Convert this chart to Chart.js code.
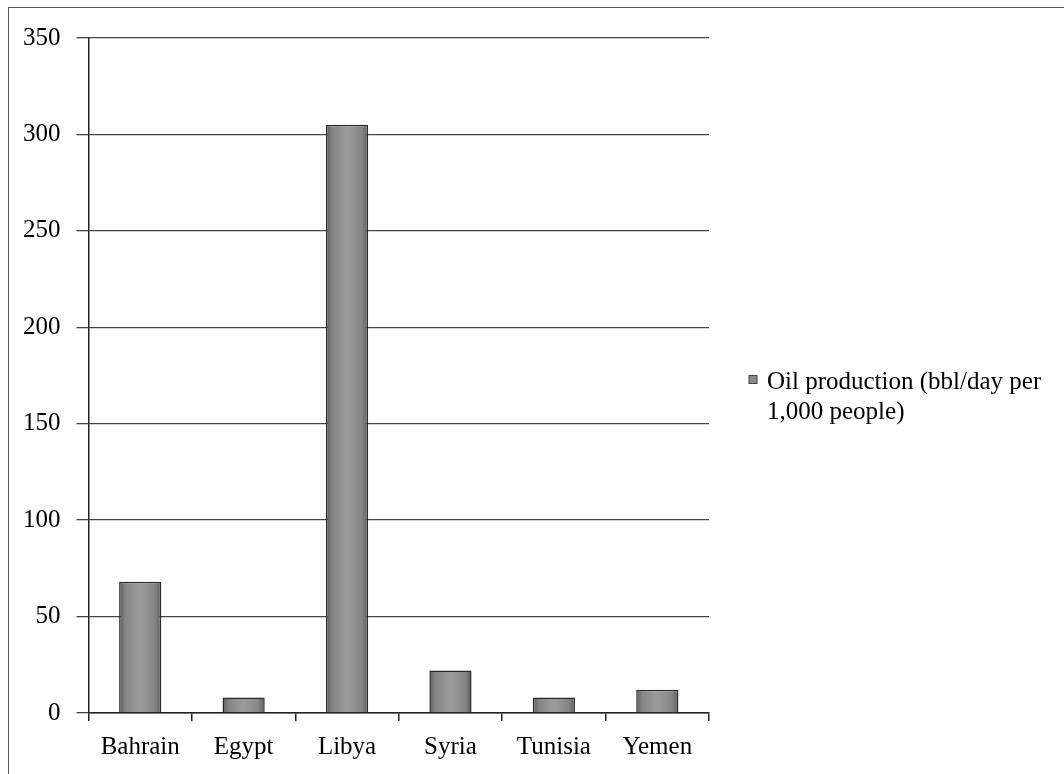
<!DOCTYPE html>
<html>
<head>
<meta charset="utf-8">
<script src="https://cdn.jsdelivr.net/npm/chart.js@4.4.1/dist/chart.umd.min.js"></script>
<style>
  html, body { margin: 0; padding: 0; background: #fff; overflow: hidden; }
  #frame { position: absolute; left: 8px; top: 7px; width: 1100px; height: 800px; border: 1.5px solid #555; }
  #wrap { position: absolute; left: 0; top: 0; width: 1064px; height: 774px; }
</style>
</head>
<body>
<div id="frame"></div>
<div id="wrap"><canvas id="oilChart"></canvas></div>
<script>
// values
const countries = ['Bahrain', 'Egypt', 'Libya', 'Syria', 'Tunisia', 'Yemen'];
const oilPerThousand = [68, 8, 305, 22, 8, 12];
const seriesLabel = ['Oil production (bbl/day per', '1,000 people)'];
const yMin = 0, yMax = 350, yStep = 50;

const serif = '"Liberation Serif", "Times New Roman", serif';

function barFill(context) {
    const chart = context.chart;
    const xs = chart.scales && chart.scales.x;
    if (!xs || context.dataIndex === undefined) return '#888';
    const cx = xs.getPixelForValue(context.dataIndex);
    if (!isFinite(cx)) return '#888';
    const half = 21;
    const g = chart.ctx.createLinearGradient(cx - half, 0, cx + half, 0);
    g.addColorStop(0, '#5e5e5e');
    g.addColorStop(0.15, '#858585');
    g.addColorStop(0.5, '#9c9c9c');
    g.addColorStop(0.85, '#858585');
    g.addColorStop(1, '#5e5e5e');
    return g;
}

// legend drawn by hand so the label can wrap onto two lines
const sideLegend = {
    id: 'sideLegend',
    afterDraw(chart) {
        const c = chart.ctx, a = chart.chartArea;
        const boxX = a.right + 40;
        const textX = a.right + 58;
        const base1 = (a.top + a.bottom) / 2 + 13;
        c.save();
        c.fillStyle = '#8a8a8a';
        c.strokeStyle = '#444';
        c.lineWidth = 1;
        c.fillRect(boxX, base1 - 13, 8, 8);
        c.strokeRect(boxX, base1 - 13, 8, 8);
        c.fillStyle = '#000';
        c.font = '25px ' + serif;
        c.textBaseline = 'alphabetic';
        seriesLabel.forEach((line, i) => c.fillText(line, textX, base1 + i * 30));
        c.restore();
    }
};

const ctx = document.getElementById('oilChart').getContext('2d');
new Chart(ctx, {
    type: 'bar',
    data: {
        labels: countries,
        datasets: [{
            label: seriesLabel.join(' '),
            data: oilPerThousand,
            backgroundColor: barFill,
            borderColor: '#2a2a2a',
            borderWidth: 1.5,
            categoryPercentage: 0.8,
            barPercentage: 0.51
        }]
    },
    options: {
        responsive: true,
        maintainAspectRatio: false,
        animation: false,
        layout: { padding: { left: 7, top: 38, right: 355, bottom: 1 } },
        plugins: {
            tooltip: { enabled: false },
            legend: { display: false }
        },
        scales: {
            x: {
                grid: {
                    offset: true,
                    drawOnChartArea: false,
                    drawTicks: true,
                    tickLength: 8,
                    color: '#222',
                    lineWidth: 1.5
                },
                border: { color: '#222', width: 1.5 },
                ticks: { color: '#000', font: { family: serif, size: 25 }, padding: 11 }
            },
            y: {
                min: yMin,
                max: yMax,
                ticks: { stepSize: yStep, color: '#000', font: { family: serif, size: 25 }, padding: 16 },
                grid: { color: '#444', lineWidth: 1.3, tickLength: 12 },
                border: { color: '#222', width: 1.5 }
            }
        }
    },
    plugins: [sideLegend]
});
</script>
</body>
</html>
